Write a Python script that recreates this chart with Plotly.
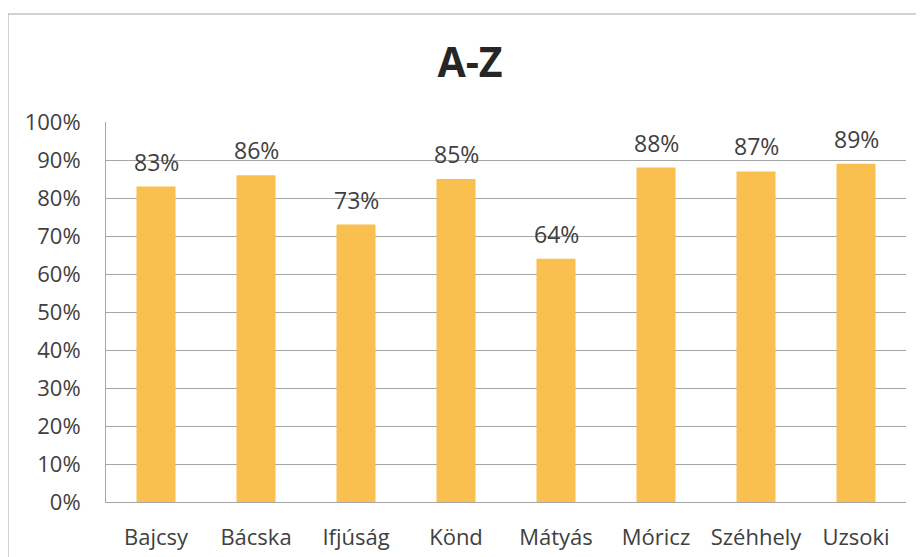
import plotly.graph_objects as go

categories = ["Bajcsy", "Bácska", "Ifjúság", "Könd", "Mátyás", "Móricz", "Széhhely", "Uzsoki"]
values = [0.83, 0.86, 0.73, 0.85, 0.64, 0.88, 0.87, 0.89]
labels = ["83%", "86%", "73%", "85%", "64%", "88%", "87%", "89%"]
title_text = "A-Z"

# page body has an 8px margin; figure fills the rest of the window
OFF = 8
W, H = 924 - OFF, 557 - OFF
L, T = 106 - OFF, 122 - OFF
R = 924 - 906
B = 557 - 502
pw, ph = W - L - R, H - T - B

fig = go.Figure()
fig.add_trace(go.Bar(
    x=categories, y=values,
    marker=dict(color="#F9C04F", line=dict(width=0)),
    width=0.39, hoverinfo="x+y",
))

for c, v, t in zip(categories, values, labels):
    fig.add_annotation(x=c, y=v, text=t, showarrow=False, yshift=25,
                       yanchor="middle", xanchor="center",
                       font=dict(size=23, color="#404040", family="Open Sans"))

fig.update_layout(
    width=W, height=H,
    margin=dict(l=L, r=R, t=T, b=B, autoexpand=False),
    paper_bgcolor="white", plot_bgcolor="white",
    showlegend=False,
    title=dict(text="<b>" + title_text + "</b>", x=(470 - OFF) / W, xanchor="center",
               y=1 - (63 - OFF) / H, yanchor="middle", yref="container",
               font=dict(size=41, color="#262626", family="Open Sans")),
    font=dict(family="Open Sans", color="#404040"),
)
fig.update_yaxes(range=[0, 1.0], tick0=0, dtick=0.1, tickformat=".0%",
                 showgrid=True, gridcolor="#A6A6A6", gridwidth=1,
                 showline=True, linecolor="#A6A6A6", linewidth=1,
                 ticks="outside", ticklen=20, tickcolor="rgba(0,0,0,0)",
                 tickfont=dict(size=22, color="#404040"), zeroline=False,
                 automargin=False)
fig.update_xaxes(showline=True, linecolor="#A6A6A6", linewidth=1,
                 ticks="outside", ticklen=16, tickcolor="rgba(0,0,0,0)",
                 tickfont=dict(size=22, color="#404040"), automargin=False)

# outer chart border
fig.add_shape(type="rect", xref="paper", yref="paper",
              x0=(8 - OFF - L) / pw, x1=(W + 20 - L) / pw,
              y0=-(B + 20) / ph, y1=(H - B - (14 - OFF)) / ph,
              line=dict(color="#A6A6A6", width=1), fillcolor="rgba(0,0,0,0)", layer="below")

fig.write_html("out.html")
